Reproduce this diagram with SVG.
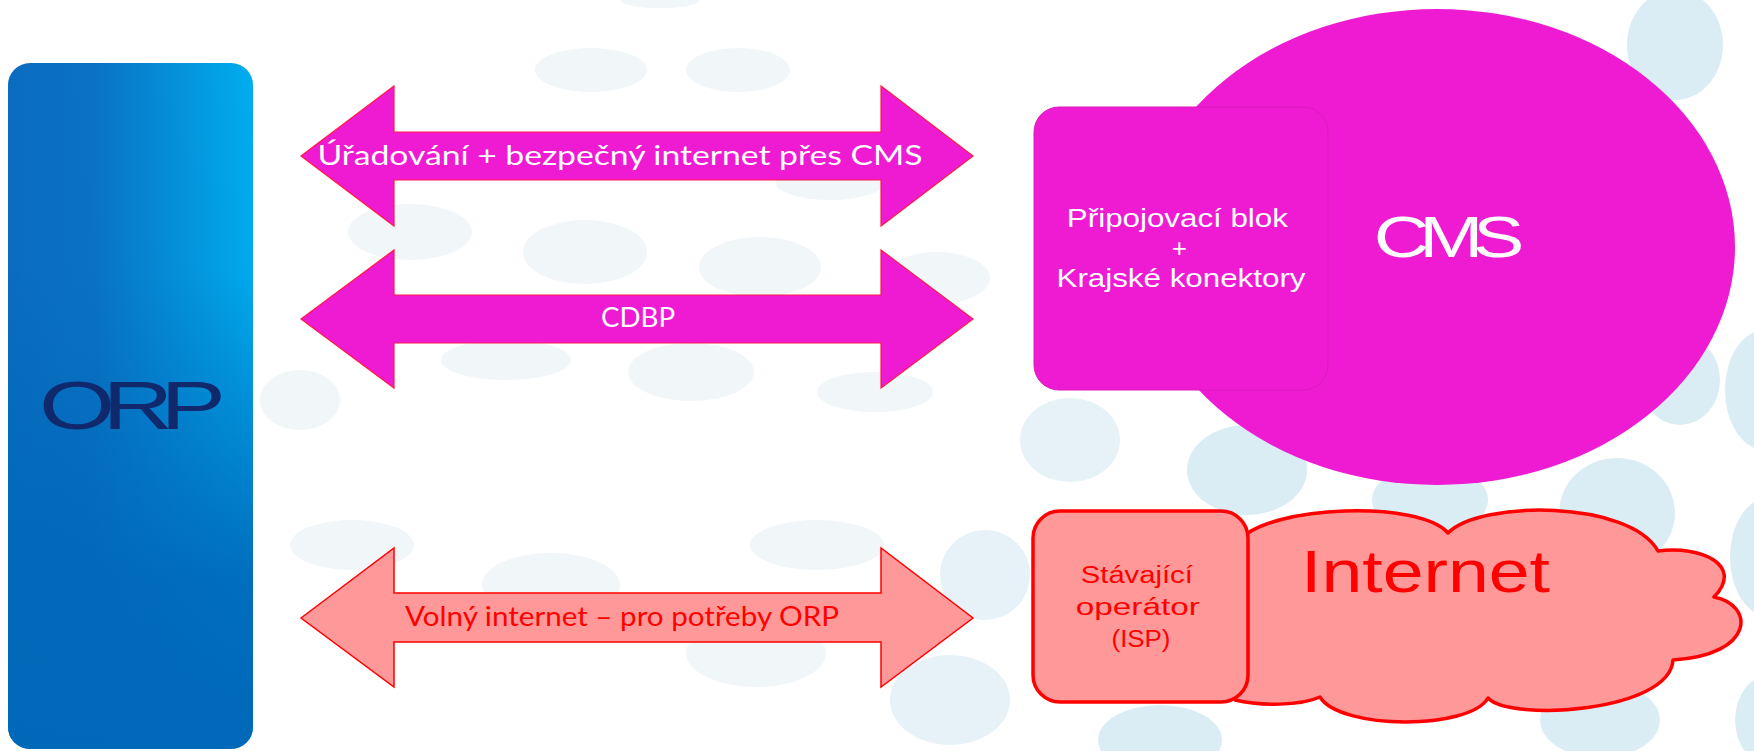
<svg xmlns="http://www.w3.org/2000/svg" width="1754" height="751" viewBox="0 0 1754 751">
<style>
.bA{fill:#dbedf4}
.bB{fill:#f1f6f9}
.arrM{fill:#ee1bd3;stroke:#ff1a4a;stroke-width:1.2}
.arrR{fill:#ff9999;stroke:#ff0000;stroke-width:1.5}
.lbl{font-family:Lato,"Open Sans",sans-serif;font-size:26px;text-anchor:middle}
.sans{font-family:"Liberation Sans",Arial,sans-serif;text-anchor:middle}
</style>
<defs>
<linearGradient id="gOrpH" x1="0" y1="0" x2="1" y2="0">
<stop offset="0" stop-color="#0a6cc0"/>
<stop offset="0.35" stop-color="#0a72c4"/>
<stop offset="1" stop-color="#00aeef"/>
</linearGradient>
<linearGradient id="gOrpV" x1="0" y1="0" x2="0" y2="1">
<stop offset="0" stop-color="#0068b8" stop-opacity="0"/>
<stop offset="0.3" stop-color="#0068b8" stop-opacity="0.05"/>
<stop offset="0.75" stop-color="#0068b8" stop-opacity="0.9"/>
<stop offset="1" stop-color="#0068b8" stop-opacity="1"/>
</linearGradient>
</defs>
<rect width="1754" height="751" fill="#ffffff"/>
<g id="background">
<ellipse class="bB" cx="591" cy="70" rx="56" ry="22"/>
<ellipse class="bB" cx="738" cy="70" rx="52" ry="22"/>
<ellipse class="bB" cx="660" cy="0" rx="40" ry="8"/>
<ellipse class="bB" cx="410" cy="232" rx="62" ry="28"/>
<ellipse class="bB" cx="585" cy="252" rx="62" ry="32"/>
<ellipse class="bB" cx="760" cy="267" rx="61" ry="30"/>
<ellipse class="bB" cx="830" cy="183" rx="54" ry="17"/>
<ellipse class="bB" cx="937" cy="278" rx="53" ry="26"/>
<ellipse class="bB" cx="506" cy="360" rx="65" ry="20"/>
<ellipse class="bB" cx="691" cy="372" rx="63" ry="29"/>
<ellipse class="bB" cx="875" cy="392" rx="58" ry="20"/>
<ellipse class="bB" cx="352" cy="545" rx="62" ry="25"/>
<ellipse class="bB" cx="551" cy="585" rx="69" ry="32"/>
<ellipse class="bB" cx="817" cy="545" rx="67" ry="25"/>
<ellipse class="bB" cx="756" cy="653" rx="70" ry="34"/>
<ellipse class="bB" cx="300" cy="400" rx="40" ry="30"/>
<ellipse class="bA" cx="985" cy="575" rx="45" ry="45" opacity="0.7"/>
<ellipse class="bA" cx="950" cy="700" rx="60" ry="45" opacity="0.7"/>
<ellipse class="bA" cx="1070" cy="440" rx="50" ry="42" opacity="0.7"/>
<ellipse class="bA" cx="1247" cy="470" rx="60" ry="45"/>
<ellipse class="bA" cx="1430" cy="500" rx="58" ry="35"/>
<ellipse class="bA" cx="1617" cy="513" rx="58" ry="55"/>
<ellipse class="bA" cx="1770" cy="557" rx="40" ry="60"/>
<ellipse class="bA" cx="1160" cy="740" rx="62" ry="35"/>
<ellipse class="bA" cx="1600" cy="720" rx="60" ry="38"/>
<ellipse class="bA" cx="1770" cy="720" rx="35" ry="45"/>
<ellipse class="bA" cx="1675" cy="45" rx="48" ry="55"/>
<ellipse class="bA" cx="1680" cy="380" rx="40" ry="45"/>
<ellipse class="bA" cx="1765" cy="390" rx="40" ry="60"/>
</g>
<g id="orp">
<rect x="8" y="63" width="245" height="686" rx="22" fill="url(#gOrpH)"/>
<rect x="8" y="63" width="245" height="686" rx="22" fill="url(#gOrpV)"/>
<text transform="translate(126,429) scale(1.42,1)" x="0" y="0" class="sans" font-size="69" fill="#10296c" letter-spacing="-9">ORP</text>
</g>
<g id="cms">
<ellipse cx="1437" cy="247" rx="298" ry="238" fill="#ee1bd3"/>
<text transform="translate(1444,257) scale(1.35,1)" x="0" y="0" class="sans" font-size="57" fill="#ffffff" letter-spacing="-7.5">CMS</text>
</g>
<g id="pripojovaci-blok">
<rect x="1034" y="107" width="294" height="283" rx="25" fill="#ee1bd3" stroke="#d81ab8" stroke-width="1"/>
<text class="sans" font-size="26" fill="#ffffff">
<tspan x="1181" y="227" textLength="221" lengthAdjust="spacingAndGlyphs">Připojovací blok</tspan>
<tspan x="1183" y="257">+</tspan>
<tspan x="1181" y="287" textLength="249" lengthAdjust="spacingAndGlyphs">Krajské konektory</tspan>
</text>
</g>
<g id="internet">
<path d="M1240,540 C1270,505 1420,500 1448,533 C1480,500 1630,500 1658,551 C1700,545 1745,565 1714,597 C1755,605 1755,655 1673,660 C1670,712 1510,722 1488,698 C1470,730 1340,730 1320,697 C1300,706 1260,706 1235,700 Z" fill="#ff9999" stroke="#ff0000" stroke-width="3.5" stroke-linejoin="round"/>
<text x="1301" y="592" font-family="Liberation Sans, Arial, sans-serif" font-size="59" fill="#ff0000" textLength="249" lengthAdjust="spacingAndGlyphs">Internet</text>
</g>
<g id="isp">
<rect x="1033" y="511" width="215" height="191" rx="27" fill="#ff9999" stroke="#ff0000" stroke-width="3.5"/>
<text class="sans" font-size="23" fill="#ff0000">
<tspan x="1140" y="583" textLength="112" lengthAdjust="spacingAndGlyphs">Stávající</tspan>
<tspan x="1141" y="615" textLength="124" lengthAdjust="spacingAndGlyphs">operátor</tspan>
<tspan x="1141" y="647" textLength="59" lengthAdjust="spacingAndGlyphs">(ISP)</tspan>
</text>
</g>
<g id="connectors">
<g id="arrow-uradovani">
<polygon class="arrM" points="301,156 394,86 394,132 881,132 881,86 973,156 881,226 881,180 394,180 394,226"/>
<text x="620" y="165" class="lbl" fill="#ffffff" textLength="605" lengthAdjust="spacingAndGlyphs">Úřadování + bezpečný internet přes CMS</text>
</g>
<g id="arrow-cdbp">
<polygon class="arrM" points="301,319 394,250 394,295 881,295 881,250 973,319 881,388 881,343 394,343 394,388"/>
<text x="638" y="327" class="lbl" fill="#ffffff" textLength="74" lengthAdjust="spacingAndGlyphs">CDBP</text>
</g>
<g id="arrow-volny">
<polygon class="arrR" points="301,618 394,548 394,593 881,593 881,548 973,618 881,687 881,642 394,642 394,687"/>
<text x="622" y="626" class="lbl" fill="#ff0000" textLength="434" lengthAdjust="spacingAndGlyphs">Volný internet – pro potřeby ORP</text>
</g>
</g>
</svg>
